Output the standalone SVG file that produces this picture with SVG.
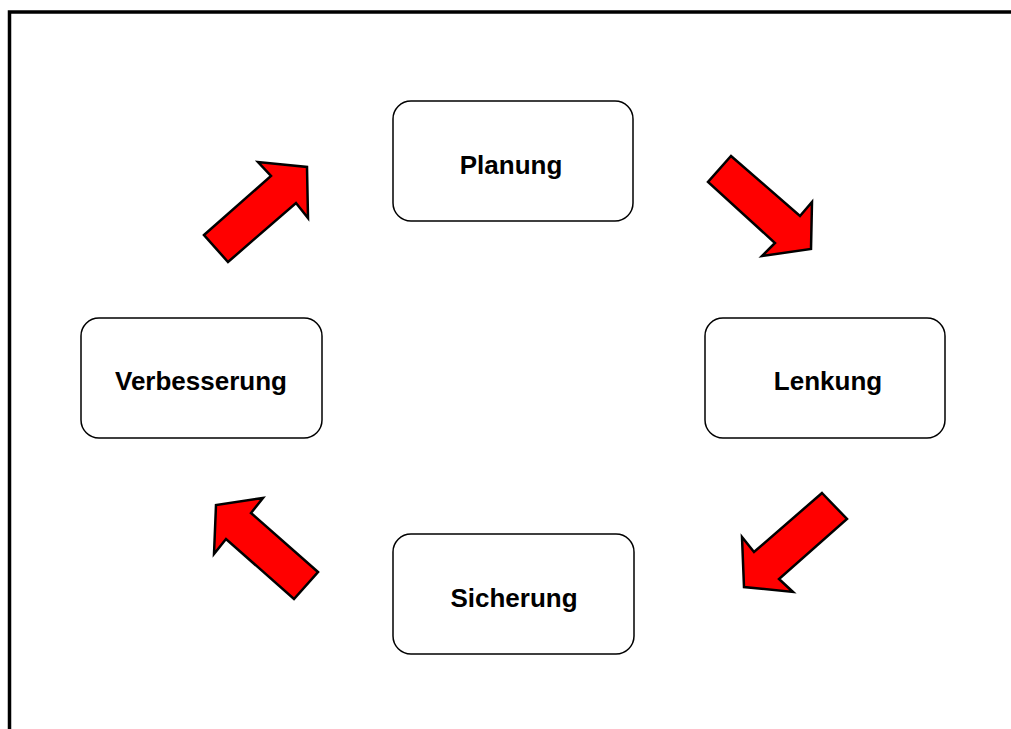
<svg xmlns="http://www.w3.org/2000/svg" width="1011" height="729" viewBox="0 0 1011 729">
<style>
.box{fill:#fff;stroke:#000;stroke-width:1.5}
.lbl{font-family:"Liberation Sans",Arial,sans-serif;font-weight:bold;font-size:26px;fill:#000;text-anchor:middle}
.arr{fill:#ff0000;stroke:#000;stroke-width:2.5;stroke-linejoin:miter}
</style>
<rect width="1011" height="729" fill="#fff"/>
<path d="M9.5 729 V12 H1011" fill="none" stroke="#000" stroke-width="3.5"/>
<g id="planung"><rect class="box" x="393" y="101" width="240" height="120" rx="18"/><text class="lbl" x="511" y="174">Planung</text></g>
<g id="verbesserung"><rect class="box" x="81" y="318" width="241" height="120" rx="18"/><text class="lbl" x="201" y="390">Verbesserung</text></g>
<g id="lenkung"><rect class="box" x="705" y="318" width="240" height="120" rx="18"/><text class="lbl" x="828" y="390">Lenkung</text></g>
<g id="sicherung"><rect class="box" x="393" y="534" width="241" height="120" rx="18"/><text class="lbl" x="514" y="607">Sicherung</text></g>
<g id="connectors">
<polygon class="arr" points="204,235 271,176 258,162 307,167 308,218 296,203 228,262"/>
<polygon class="arr" points="731,156 800,216 812,202 811,249 762,256 775,243 708,182"/>
<polygon class="arr" points="822,493 847,519 779,579 793,592 744,587 742,537 754,552"/>
<polygon class="arr" points="318,572 251,513 263,498 216,505 214,554 226,539 294,599"/>
</g>
</svg>
